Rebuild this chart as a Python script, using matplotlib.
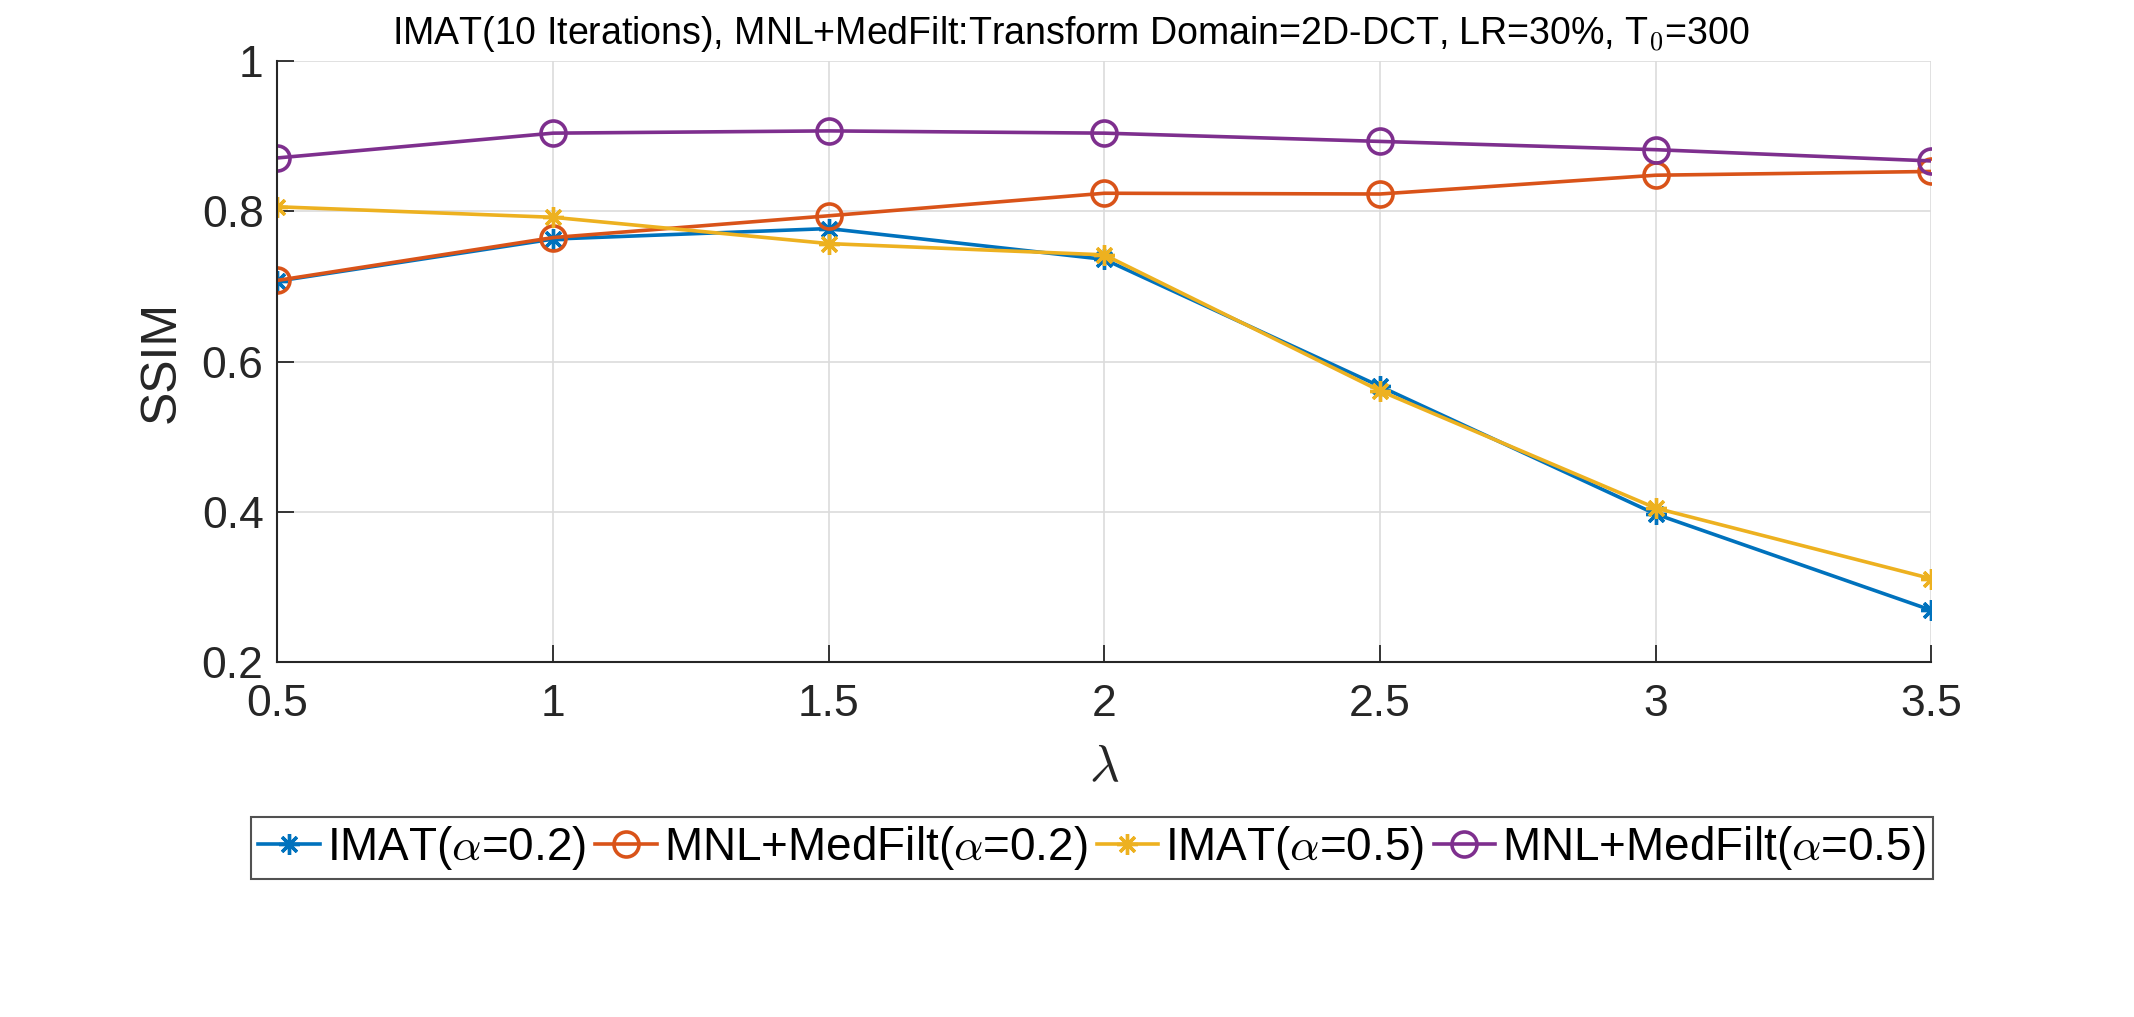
import matplotlib.pyplot as plt
import numpy as np

plt.rcParams['font.family'] = ['Liberation Sans', 'DejaVu Sans']
plt.rcParams['mathtext.fontset'] = 'cm'

lam = [0.5, 1, 1.5, 2, 2.5, 3, 3.5]
imat_02 = [0.707, 0.763, 0.777, 0.736, 0.567, 0.397, 0.269]
mnl_02 = [0.708, 0.765, 0.794, 0.824, 0.823, 0.848, 0.853]
imat_05 = [0.806, 0.792, 0.757, 0.742, 0.561, 0.405, 0.311]
mnl_05 = [0.871, 0.904, 0.907, 0.904, 0.893, 0.882, 0.867]

labels = [r'IMAT($\alpha$=0.2)', r'MNL+MedFilt($\alpha$=0.2)',
          r'IMAT($\alpha$=0.5)', r'MNL+MedFilt($\alpha$=0.5)']
colors = ['#0072BD', '#D95319', '#EDB120', '#7E2F8E']
markers = ['*', 'o', '*', 'o']

fig = plt.figure(figsize=(21.34, 10.17), dpi=100)
ax = fig.add_axes([0.13, 0.349, 0.775, 0.591])

for ys, lab, c, m in zip([imat_02, mnl_02, imat_05, mnl_05], labels, colors, markers):
    if m == 'o':
        ax.plot(lam, ys, color=c, marker='o', markersize=18, markerfacecolor='none',
                markeredgewidth=2.6, linewidth=2.6, label=lab)
    else:
        # MATLAB style asterisk: 8 spokes
        ax.plot(lam, ys, color=c, marker=(8, 2, 0), markersize=15,
                markeredgewidth=2.4, linewidth=2.6, label=lab)

ax.set_xlim(0.5, 3.5)
ax.set_ylim(0.2, 1)
ax.set_xticks(lam)
ax.set_xticklabels(['0.5', '1', '1.5', '2', '2.5', '3', '3.5'])
ax.set_yticks([0.2, 0.4, 0.6, 0.8, 1])
ax.set_yticklabels(['0.2', '0.4', '0.6', '0.8', '1'])
ax.grid(True, color='#dcdcdc', linewidth=1.2)
ax.set_axisbelow(True)
ax.spines['top'].set_visible(False)
ax.spines['right'].set_visible(False)
for s in ['left', 'bottom']:
    ax.spines[s].set_color('#262626')
    ax.spines[s].set_linewidth(1.5)
ax.tick_params(direction='in', length=12, width=1.3, labelsize=32,
               colors='#262626', pad=10)
ax.tick_params(axis='x', pad=16)

ax.set_ylabel('SSIM', fontsize=36, color='#262626', labelpad=12)
ax.set_xlabel(r'$\lambda$', fontsize=37, color='#262626', labelpad=13)
fig.text(0.1837, 0.9567,
         r'IMAT(10 Iterations), MNL+MedFilt:Transform Domain=2D-DCT, LR=30%, T$_\mathsf{0}$=300',
         fontsize=27, ha='left', va='baseline')

leg = fig.legend(loc='center', bbox_to_anchor=(0.5117, 0.166), ncol=4, fontsize=33,
                 frameon=True, fancybox=False, edgecolor='#262626',
                 handlelength=1.35, handletextpad=0.15, columnspacing=0.2,
                 borderpad=0.15, borderaxespad=0)
leg.get_frame().set_linewidth(1.5)

fig.savefig('out.png', dpi=100)
